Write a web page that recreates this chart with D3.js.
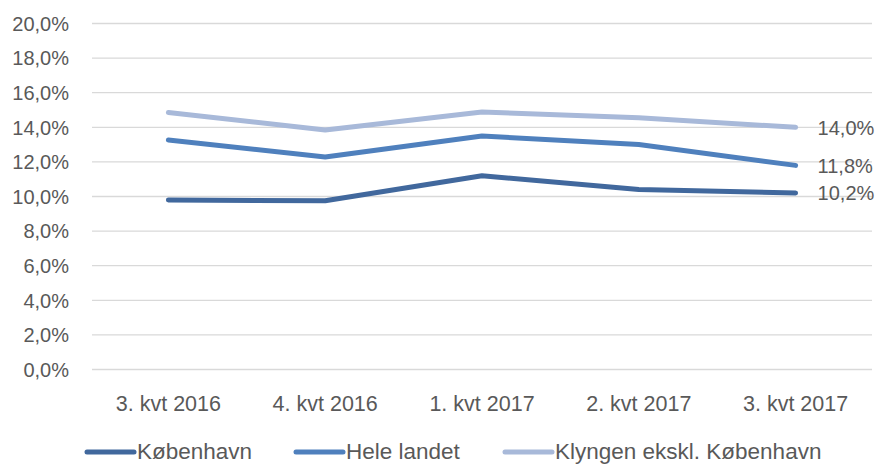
<!DOCTYPE html>
<html>
<head>
<meta charset="utf-8">
<script src="https://cdn.jsdelivr.net/npm/d3@7"></script>
<style>
  body { margin: 0; background: #fff; }
  svg text { font-family: "Liberation Sans", Arial, sans-serif; fill: #595959; }
</style>
</head>
<body>
<div id="chart"></div>
<script>
const categories = ["3. kvt 2016", "4. kvt 2016", "1. kvt 2017", "2. kvt 2017", "3. kvt 2017"];
const kobenhavn = [9.8, 9.75, 11.2, 10.4, 10.2];
const heleLandet = [13.27, 12.28, 13.5, 13.0, 11.8];
const klyngen = [14.85, 13.85, 14.88, 14.55, 14.0];
const seriesNames = ["København", "Hele landet", "Klyngen ekskl. København"];
const yTicks = [0, 2, 4, 6, 8, 10, 12, 14, 16, 18, 20];

const colors = ["#41689d", "#4f80bd", "#a8b9d9"];
const series = [kobenhavn, heleLandet, klyngen].map((values, i) => ({
    name: seriesNames[i], values, color: colors[i]
}));

const width = 876, height = 464;
const fmt = (v) => d3.format(".1f")(v).replace(".", ",") + "%";

const svg = d3.select("#chart")
    .append("svg")
    .attr("width", width)
    .attr("height", height);

const x = d3.scaleBand().domain(categories).range([90, 874]);
const y = d3.scaleLinear().domain([0, 20]).range([369.5, 23.5]);

// gridlines
svg.append("g")
    .selectAll("line")
    .data(yTicks)
    .join("line")
    .attr("x1", 92)
    .attr("x2", 872)
    .attr("y1", (d) => y(d))
    .attr("y2", (d) => y(d))
    .attr("stroke", "#d9d9d9")
    .attr("stroke-width", 1.3);

// y axis labels
svg.append("g")
    .selectAll("text")
    .data(yTicks)
    .join("text")
    .attr("x", 69)
    .attr("y", (d) => y(d))
    .attr("dy", "0.36em")
    .attr("text-anchor", "end")
    .attr("font-size", 20)
    .text((d) => fmt(d));

// x axis labels
svg.append("g")
    .selectAll("text")
    .data(categories)
    .join("text")
    .attr("x", (d) => x(d) + x.bandwidth() / 2)
    .attr("y", 403)
    .attr("dy", "0.36em")
    .attr("text-anchor", "middle")
    .attr("font-size", 21.5)
    .text((d) => d);

const line = d3.line()
    .x((d, i) => x(categories[i]) + x.bandwidth() / 2)
    .y((d) => y(d));

svg.append("g")
    .selectAll("path")
    .data(series)
    .join("path")
    .attr("fill", "none")
    .attr("stroke", (d) => d.color)
    .attr("stroke-width", 5)
    .attr("stroke-linejoin", "round")
    .attr("stroke-linecap", "round")
    .attr("d", (d) => line(d.values));

// end labels
const last = categories.length - 1;
svg.append("g")
    .selectAll("text")
    .data(series)
    .join("text")
    .attr("x", x(categories[last]) + x.bandwidth() / 2 + 22)
    .attr("y", (d) => y(d.values[last]))
    .attr("dy", "0.36em")
    .attr("font-size", 20)
    .text((d) => fmt(d.values[last]));

// legend
const legendX = [85, 294, 503];
const legend = svg.append("g")
    .selectAll("g")
    .data(series)
    .join("g")
    .attr("transform", (d, i) => `translate(${legendX[i]},452)`);

legend.append("line")
    .attr("x1", 2)
    .attr("x2", 49)
    .attr("stroke", (d) => d.color)
    .attr("stroke-width", 5)
    .attr("stroke-linecap", "round");

legend.append("text")
    .attr("x", 52)
    .attr("y", 7)
    .attr("font-size", 22.5)
    .text((d) => d.name);
</script>
</body>
</html>
